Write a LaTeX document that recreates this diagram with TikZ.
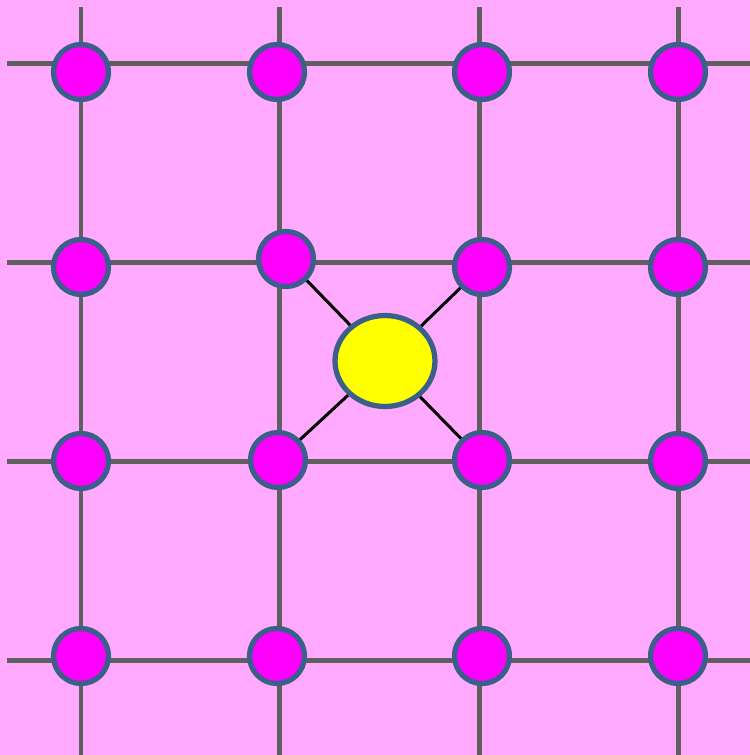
\documentclass[tikz,border=0pt]{standalone}
\usetikzlibrary{shapes.geometric}
\definecolor{bgpink}{RGB}{255,170,255}
\definecolor{gridgray}{RGB}{95,95,95}
\definecolor{rimblue}{RGB}{58,95,138}
\definecolor{sitemag}{RGB}{255,0,255}
\definecolor{guestyellow}{RGB}{255,255,0}

\begin{document}
\begin{tikzpicture}[
  x=0.02cm, y=-0.02cm,
  gridline/.style={gridgray, line width=0.1cm},
  site/.style={circle, draw=rimblue, fill=sitemag, line width=0.105cm,
               minimum size=1.1cm, inner sep=0pt},
  guest/.style={ellipse, draw=rimblue, fill=guestyellow, line width=0.105cm,
                minimum width=2cm, minimum height=1.82cm, inner sep=0pt},
  bond/.style={black, line width=0.06cm}
]
  \fill[bgpink] (0,0) rectangle (750,755);
  \useasboundingbox (0,0) rectangle (750,755);

  % lattice lines
  \foreach \y in {63,262,461,660}
    \draw[gridline] (7,\y) -- (750,\y);
  \foreach \x in {81,279,479,678}
    \draw[gridline] (\x,7) -- (\x,755);

  % lattice sites
  \node[site] (s11) at (81,72) {};
  \node[site] (s12) at (277,72) {};
  \node[site] (s13) at (482,72) {};
  \node[site] (s14) at (678,72) {};
  \node[site] (s21) at (81,267) {};
  \node[site] (s22) at (286,259) {};
  \node[site] (s23) at (482,267) {};
  \node[site] (s24) at (678,267) {};
  \node[site] (s31) at (81,461) {};
  \node[site] (s32) at (278,460) {};
  \node[site] (s33) at (482,460) {};
  \node[site] (s34) at (678,461) {};
  \node[site] (s41) at (81,656) {};
  \node[site] (s42) at (277,656) {};
  \node[site] (s43) at (482,656) {};
  \node[site] (s44) at (678,656) {};

  % interstitial
  \node[guest] (g) at (385,361) {};

  \draw[bond] (s22) -- (g);
  \draw[bond] (s23) -- (g);
  \draw[bond] (s32) -- (g);
  \draw[bond] (s33) -- (g);
\end{tikzpicture}
\end{document}
